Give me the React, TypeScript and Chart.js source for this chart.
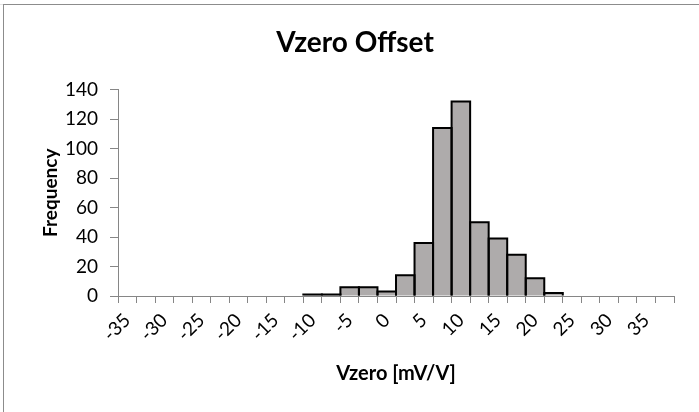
import { useEffect, useRef } from 'react';
import { Chart, registerables } from 'chart.js';

Chart.register(...registerables);

// Histogram bins (bin start, mV/V)
const binStarts = [
  -35, -32.5, -30, -27.5, -25, -22.5, -20, -17.5, -15, -12.5,
  -10, -7.5, -5, -2.5, 0, 2.5, 5, 7.5, 10, 12.5,
  15, 17.5, 20, 22.5, 25, 27.5, 30, 32.5, 35, 37.5,
];
// Counts per bin
const frequencies = [
  0, 0, 0, 0, 0, 0, 0, 0, 0, 0,
  1, 1, 6, 6, 3, 14, 36, 114, 132, 50,
  39, 28, 12, 2, 0, 0, 0, 0, 0, 0,
];
// Labels shown on the x axis
const xTickLabels = [-35, -30, -25, -20, -15, -10, -5, 0, 5, 10, 15, 20, 25, 30, 35];
const yMin = 0;
const yMax = 140;
const yStep = 20;

const chartTitle = 'Vzero Offset';
const xTitle = 'Vzero [mV/V]';
const yTitle = 'Frequency';

const FONT = 'Lato';
const AXIS_COLOR = '#868686';

export default function App() {
  const ref = useRef<HTMLCanvasElement>(null);

  useEffect(() => {
    if (!ref.current) return;
    const outline = {
      id: 'barOutline',
      afterDatasetsDraw(chart: any) {
        const meta = chart.getDatasetMeta(0);
        const ctx = chart.ctx as CanvasRenderingContext2D;
        ctx.save();
        ctx.strokeStyle = '#000';
        ctx.lineWidth = 2;
        ctx.lineJoin = 'miter';
        meta.data.forEach((bar: any, i: number) => {
          if (!frequencies[i]) return;
          const { x, y, base, width } = bar.getProps(['x', 'y', 'base', 'width'], true);
          const l = x - width / 2;
          const r = x + width / 2;
          ctx.beginPath();
          ctx.moveTo(l, base);
          ctx.lineTo(l, y);
          ctx.lineTo(r, y);
          ctx.lineTo(r, base);
          ctx.stroke();
        });
        ctx.restore();
      },
    };

    const chart = new Chart(ref.current, {
      type: 'bar',
      data: {
        labels: binStarts.map(String),
        datasets: [
          {
            data: frequencies,
            backgroundColor: '#aeabab',
            borderWidth: 0,
            barPercentage: 1,
            categoryPercentage: 1,
            inflateAmount: 0,
          } as any,
        ],
      },
      options: {
        animation: false,
        responsive: false,
        maintainAspectRatio: false,
        layout: { padding: { left: 32, right: 32, top: 0, bottom: 0 } },
        plugins: {
          legend: { display: false },
          tooltip: { enabled: false },
          title: {
            display: true,
            text: chartTitle,
            color: '#000',
            font: { family: FONT, size: 28, weight: 'bold' },
            padding: { top: 21, bottom: 30 },
          },
        },
        scales: {
          x: {
            grid: {
              offset: true,
              drawOnChartArea: false,
              drawTicks: true,
              tickLength: 7,
              color: AXIS_COLOR,
            },
            border: { color: AXIS_COLOR },
            ticks: {
              autoSkip: false,
              maxRotation: 45,
              minRotation: 45,
              padding: 6,
              color: '#000',
              font: { family: FONT, size: 19 },
              callback: (_v: any, i: number) =>
                xTickLabels.includes(binStarts[i]) ? String(binStarts[i]) : '',
            },
            title: {
              display: true,
              text: xTitle,
              color: '#000',
              font: { family: FONT, size: 20, weight: 'bold' },
              padding: { top: 0, bottom: 26 },
            },
            afterFit: (s: any) => {
              s.height = 116;
            },
          },
          y: {
            min: yMin,
            max: yMax,
            grid: {
              drawOnChartArea: false,
              drawTicks: true,
              tickLength: 8,
              color: AXIS_COLOR,
            },
            border: { color: AXIS_COLOR },
            ticks: {
              stepSize: yStep,
              padding: 12,
              color: '#000',
              font: { family: FONT, size: 19 },
            },
            title: {
              display: true,
              text: yTitle,
              color: '#000',
              font: { family: FONT, size: 19, weight: 'bold' },
              padding: { top: 3, bottom: 0 },
            },
            afterFit: (s: any) => {
              s.width = 82;
            },
          },
        },
      } as any,
      plugins: [outline],
    });
    return () => chart.destroy();
  }, []);

  return (
    <div
      style={{
        position: 'fixed',
        left: 0,
        top: 0,
        width: 699,
        height: 412,
        overflow: 'hidden',
        background: '#fff',
      }}
    >
      <div style={{ position: 'absolute', left: 0, top: 4, width: 699, height: 1, background: '#e2e2e2' }} />
      <div
        style={{
          position: 'absolute',
          left: 3,
          top: 4,
          width: 720,
          height: 420,
          borderLeft: '1px solid #8c8c8c',
          borderTop: '1px solid #8c8c8c',
        }}
      />
      <canvas
        ref={ref}
        width={702}
        height={407}
        style={{ position: 'absolute', left: 4, top: 5, width: 702, height: 407 }}
      />
    </div>
  );
}
